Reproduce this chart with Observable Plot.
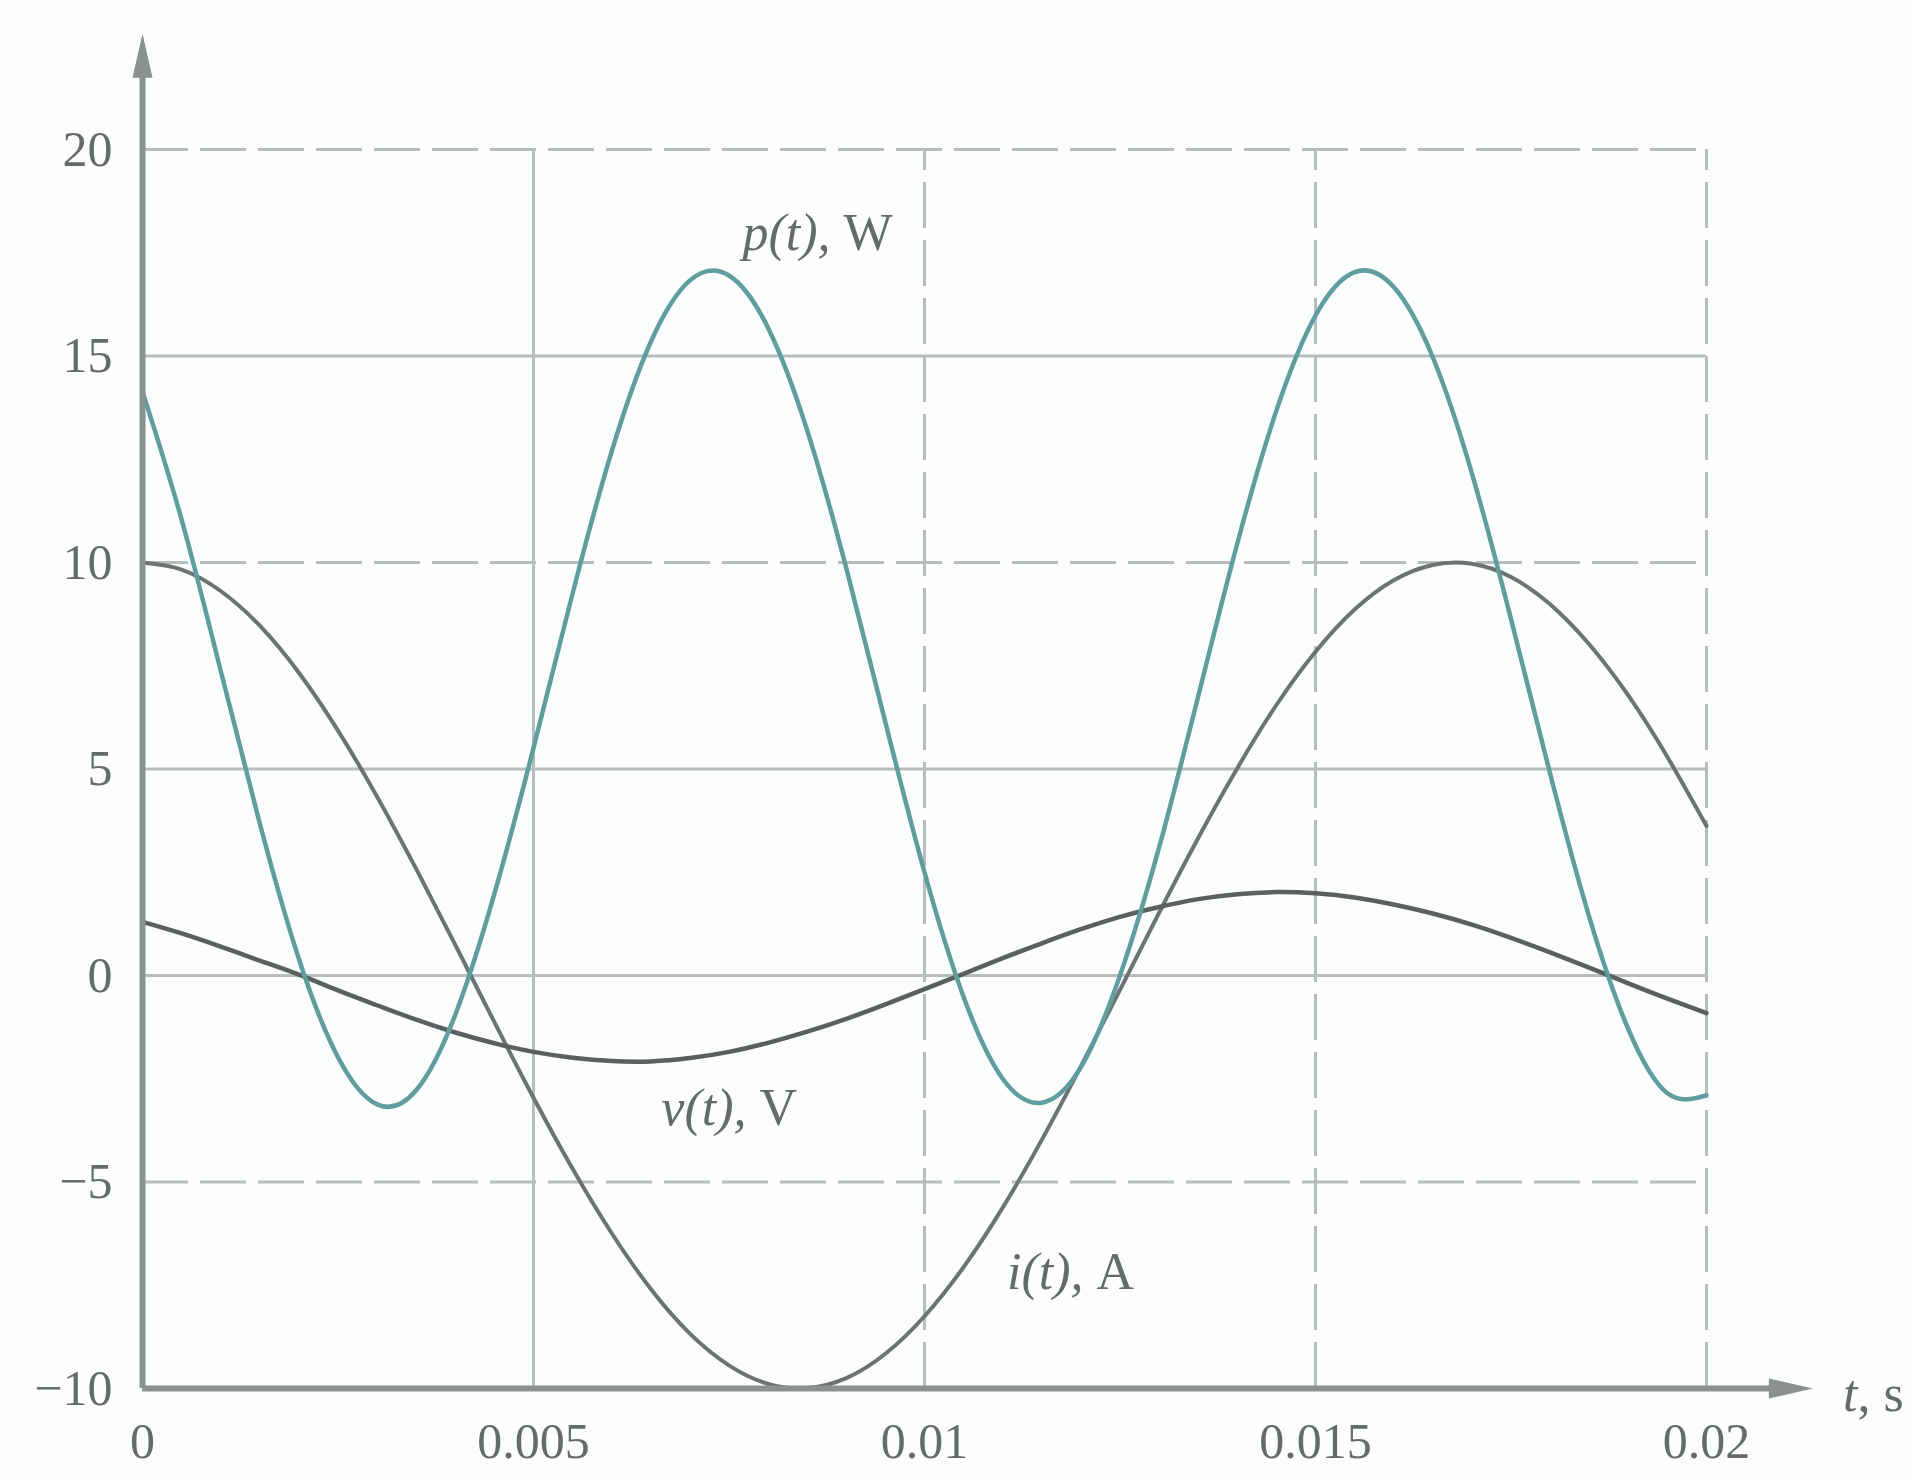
<!DOCTYPE html>
<html><head><meta charset="utf-8">
<script src="https://cdn.jsdelivr.net/npm/d3@7"></script>
<script src="https://cdn.jsdelivr.net/npm/@observablehq/plot@0.6"></script>
<style>
html,body{margin:0;padding:0;background:#fcfefe;}
#chart svg{display:block;}
</style></head><body><div id="chart"></div>
<script>
// ---- data ----
const tValues = [0, 0.0005, 0.001, 0.0015, 0.002, 0.0025, 0.003, 0.0035, 0.004, 0.0045,
  0.005, 0.0055, 0.006, 0.0065, 0.007, 0.0075, 0.008, 0.0085, 0.009, 0.0095,
  0.01, 0.0105, 0.011, 0.0115, 0.012, 0.0125, 0.013, 0.0135, 0.014, 0.0145,
  0.015, 0.0155, 0.016, 0.0165, 0.017, 0.0175, 0.018, 0.0185, 0.019, 0.0195, 0.02];
const iValues = [10, 9.83, 9.31, 8.47, 7.33, 5.93, 4.33, 2.58, 0.74, -1.13,
  -2.96, -4.68, -6.24, -7.59, -8.67, -9.44, -9.89, -9.99, -9.75, -9.16,
  -8.25, -7.06, -5.62, -3.98, -2.20, -0.35, 1.52, 3.33, 5.02, 6.55,
  7.84, 8.86, 9.57, 9.94, 9.97, 9.65, 8.99, 8.02, 6.78, 5.29, 3.62];
const vValues = [1.30, 1.02, 0.70, 0.36, 0.02, -0.36, -0.72, -1.07, -1.38, -1.64,
  -1.85, -1.99, -2.07, -2.08, -2.00, -1.85, -1.63, -1.36, -1.05, -0.70,
  -0.33, 0.04, 0.42, 0.78, 1.12, 1.42, 1.66, 1.85, 1.97, 2.02,
  1.99, 1.89, 1.72, 1.50, 1.23, 0.91, 0.56, 0.19, -0.19, -0.56, -0.91];
const pValues = [14.14, 11.04, 7.38, 3.68, 0.40, -1.98, -3.12, -2.78, -0.95, 1.98,
  5.51, 9.25, 12.69, 15.34, 16.83, 16.95, 15.68, 13.20, 9.86, 6.13,
  2.50, -0.52, -2.50, -3.08, -2.22, 0.00, 3.10, 6.76, 10.46, 13.68,
  15.98, 17.03, 16.67, 14.97, 12.16, 8.63, 4.89, 1.42, -1.30, -2.85, -2.90];

const xTicks = [0, 0.005, 0.01, 0.015, 0.02];
const xTickLabels = ["0", "0.005", "0.01", "0.015", "0.02"];
const yTicks = [-10, -5, 0, 5, 10, 15, 20];
const yTickLabels = ["\u221210", "\u22125", "0", "5", "10", "15", "20"];

const gridSolidY = [15, 5, 0];
const gridDashedY = [20, 10, -5];
const gridSolidX = [0.005];
const gridDashedX = [0.01, 0.015, 0.02];

const labelItalic = ["p(t),", "v(t),", "i(t),"];
const labelUpright = ["W", "V", "A"];
const labelX = [0.008798, 0.007724, 0.012033];
const labelY = [17.96, -3.21, -7.18];

const axisTitleItalic = ["t"];
const axisTitleUpright = [", s"];

// ---- build table ----
const rows = tValues.map((t, k) => ({t, i: iValues[k], v: vValues[k], p: pValues[k]}));
const labels = labelItalic.map((s, k) => ({it: s, up: labelUpright[k], x: labelX[k], y: labelY[k]}));

const xMax = 0.02, yMin = -10, yMax = 20;
const xArrowTip = 0.02136, yArrowTip = 22.8;

const arrowHead = {
  draw(ctx) { ctx.moveTo(0, 0); ctx.lineTo(10, 44); ctx.lineTo(-10, 44); ctx.closePath(); }
};

const gridColor = "#b8bcbc";
const axisColor = "#8b9090";
const textColor = "#676a6a";
const serif = "'Liberation Serif', 'Times New Roman', serif";

const chart = Plot.plot({
  width: 1912,
  height: 1481,
  marginLeft: 142,
  marginRight: 206,
  marginTop: 149,
  marginBottom: 93,
  x: {domain: [0, xMax]},
  y: {domain: [yMin, yMax]},
  style: {background: "transparent", fontFamily: serif, fontSize: "50px", color: textColor},
  marks: [
    Plot.ruleY(gridSolidY, {x1: 0, x2: xMax, stroke: gridColor, strokeWidth: 3}),
    Plot.ruleY(gridDashedY, {x1: 0, x2: xMax, stroke: gridColor, strokeWidth: 3, strokeDasharray: "46,12"}),
    Plot.ruleX(gridSolidX, {y1: yMin, y2: yMax, stroke: gridColor, strokeWidth: 3}),
    Plot.ruleX(gridDashedX, {y1: yMin, y2: yMax, stroke: gridColor, strokeWidth: 3, strokeDasharray: "46,12"}),
    Plot.line(rows, {x: "t", y: "i", stroke: "#6f7272", strokeWidth: 4, curve: "natural"}),
    Plot.line(rows, {x: "t", y: "v", stroke: "#5c5f5f", strokeWidth: 4.5, curve: "natural"}),
    Plot.line(rows, {x: "t", y: "p", stroke: "#5f9d9e", strokeWidth: 4.5, curve: "natural"}),
    Plot.ruleX([0], {y1: yMin, y2: yArrowTip - 0.6, stroke: axisColor, strokeWidth: 6}),
    Plot.ruleY([yMin], {x1: 0, x2: xArrowTip - 0.0004, stroke: axisColor, strokeWidth: 6}),
    Plot.dot([0], {x: 0, y: yArrowTip, symbol: arrowHead, fill: axisColor, stroke: null}),
    Plot.dot([0], {x: xArrowTip, y: yMin, symbol: arrowHead, fill: axisColor, stroke: null, rotate: 90}),
    Plot.axisX({ticks: xTicks, tickFormat: d => xTickLabels[xTicks.indexOf(d)], tickSize: 0, tickPadding: 34,
      fontSize: 50, fill: textColor}),
    Plot.axisY({ticks: yTicks, tickFormat: d => yTickLabels[yTicks.indexOf(d)], tickSize: 0, tickPadding: 30,
      fontSize: 50, fill: textColor}),
    Plot.text(labels, {x: "x", y: "y", text: "it", textAnchor: "end", fontStyle: "italic", fontSize: 52, fill: textColor}),
    Plot.text(labels, {x: "x", y: "y", text: "up", textAnchor: "start", dx: 13, fontSize: 52, fill: textColor}),
    Plot.text(axisTitleItalic, {x: 0.02193, y: yMin - 0.15, text: d => d, textAnchor: "end", fontStyle: "italic", fontSize: 52, fill: textColor}),
    Plot.text(axisTitleUpright, {x: 0.02193, y: yMin - 0.15, text: d => d, textAnchor: "start", fontSize: 52, fill: textColor})
  ]
});
document.getElementById("chart").appendChild(chart);
</script>
</body></html>
